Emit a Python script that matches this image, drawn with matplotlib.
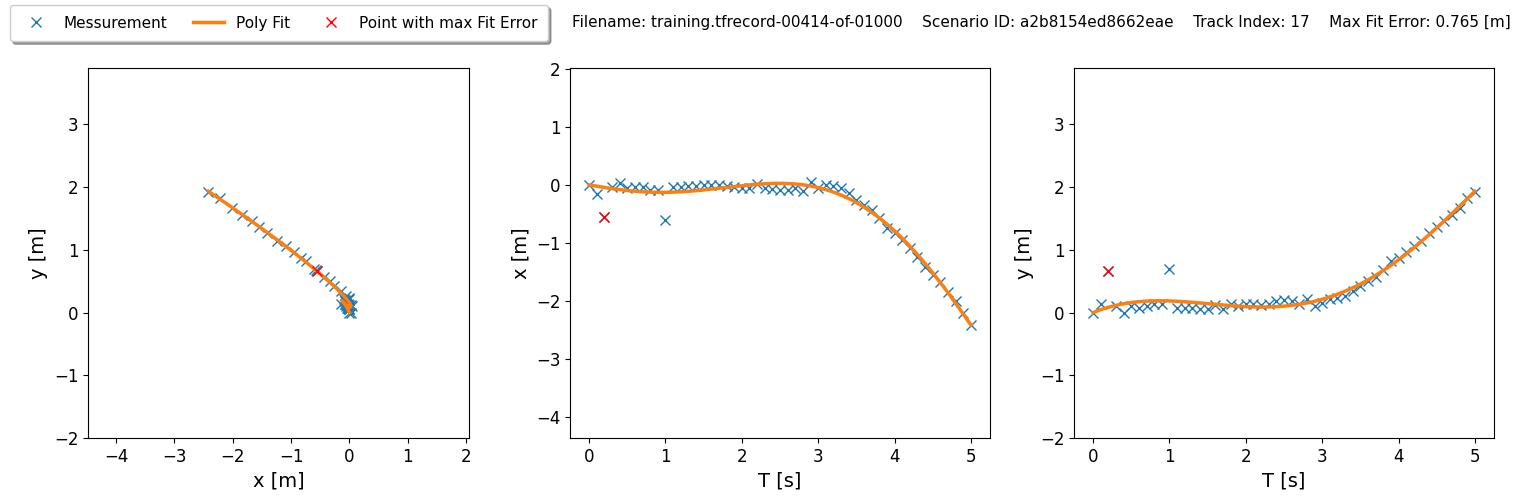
import numpy as np
import matplotlib
matplotlib.use('Agg')
import matplotlib.pyplot as plt

t = np.round(np.arange(0, 5.01, 0.1), 1)
x_meas = [0.00, -0.15, -0.55, -0.03, 0.03, -0.06, -0.03, -0.03, -0.08, -0.08,
          -0.60, -0.04, -0.03, -0.02, -0.01, 0.00, 0.00, 0.00, -0.02, -0.03,
          -0.05, -0.05, 0.02, -0.05, -0.07, -0.08, -0.08, -0.06, -0.10, 0.05,
          -0.05, 0.00, -0.01, -0.06, -0.14, -0.26, -0.34, -0.43, -0.57, -0.75,
          -0.83, -0.95, -1.09, -1.24, -1.41, -1.55, -1.67, -1.84, -2.01, -2.21,
          -2.42]
y_meas = [0.00, 0.13, 0.66, 0.10, -0.01, 0.11, 0.07, 0.10, 0.13, 0.14,
          0.70, 0.07, 0.07, 0.07, 0.06, 0.05, 0.12, 0.06, 0.14, 0.10,
          0.14, 0.14, 0.12, 0.14, 0.18, 0.20, 0.18, 0.13, 0.22, 0.11,
          0.16, 0.21, 0.23, 0.26, 0.34, 0.42, 0.50, 0.57, 0.68, 0.82,
          0.87, 0.96, 1.06, 1.14, 1.27, 1.37, 1.46, 1.56, 1.67, 1.83,
          1.92]
x_meas = np.array(x_meas)
y_meas = np.array(y_meas)
max_err_idx = 2

title = ('Filename: training.tfrecord-00414-of-01000    Scenario ID: a2b8154ed8662eae    '
         'Track Index: 17    Max Fit Error: 0.765 [m]')

# polynomial fit of the measurements, anchored at the first point
deg = 5
w = np.ones(len(t))
w[0] = 100.0
t_fit = np.linspace(0, 5, 300)
x_fit = np.polyval(np.polyfit(t, x_meas, deg, w=w), t_fit)
y_fit = np.polyval(np.polyfit(t, y_meas, deg, w=w), t_fit)

W, H = 1522, 498
fig = plt.figure(figsize=(W / 100, H / 100), dpi=100)


def box(l, r, top, bot):
    return [l / W, (H - bot) / H, (r - l) / W, (bot - top) / H]


ax1 = fig.add_axes(box(88, 469, 68, 438))
ax2 = fig.add_axes(box(570, 990, 68, 438))
ax3 = fig.add_axes(box(1074, 1494, 68, 438))

ms = 6.5
ax1.plot(x_meas, y_meas, 'x', color='tab:blue', ms=ms, label='Messurement')
ax1.plot(x_fit, y_fit, '-', color='tab:orange', lw=2.5, label='Poly Fit')
ax1.plot(x_meas[max_err_idx], y_meas[max_err_idx], 'x', color='red', ms=ms,
         label='Point with max Fit Error')
ax1.set_xlim(-4.48, 2.05)
ax1.set_ylim(-2.0, 3.9)
ax1.set_xlabel('x [m]', fontsize=14)
ax1.set_ylabel('y [m]', fontsize=14)

ax2.plot(t, x_meas, 'x', color='tab:blue', ms=ms)
ax2.plot(t_fit, x_fit, '-', color='tab:orange', lw=2.5)
ax2.plot(t[max_err_idx], x_meas[max_err_idx], 'x', color='red', ms=ms)
ax2.set_xlim(-0.25, 5.25)
ax2.set_ylim(-4.37, 2.02)
ax2.set_xlabel('T [s]', fontsize=14)
ax2.set_ylabel('x [m]', fontsize=14)

ax3.plot(t, y_meas, 'x', color='tab:blue', ms=ms)
ax3.plot(t_fit, y_fit, '-', color='tab:orange', lw=2.5)
ax3.plot(t[max_err_idx], y_meas[max_err_idx], 'x', color='red', ms=ms)
ax3.set_xlim(-0.25, 5.25)
ax3.set_ylim(-2.0, 3.9)
ax3.set_xlabel('T [s]', fontsize=14)
ax3.set_ylabel('y [m]', fontsize=14)

for ax in (ax1, ax2, ax3):
    ax.tick_params(labelsize=12)

fig.legend(loc='upper left', bbox_to_anchor=(10 / W, 1 - 5 / H), borderaxespad=0,
           ncol=3, fontsize=11, shadow=True, fancybox=True, columnspacing=1.7,
           borderpad=0.7)
fig.text(572 / W, 1 - 22 / H, title, fontsize=11, ha='left', va='center')

fig.savefig('out.png', dpi=100)
